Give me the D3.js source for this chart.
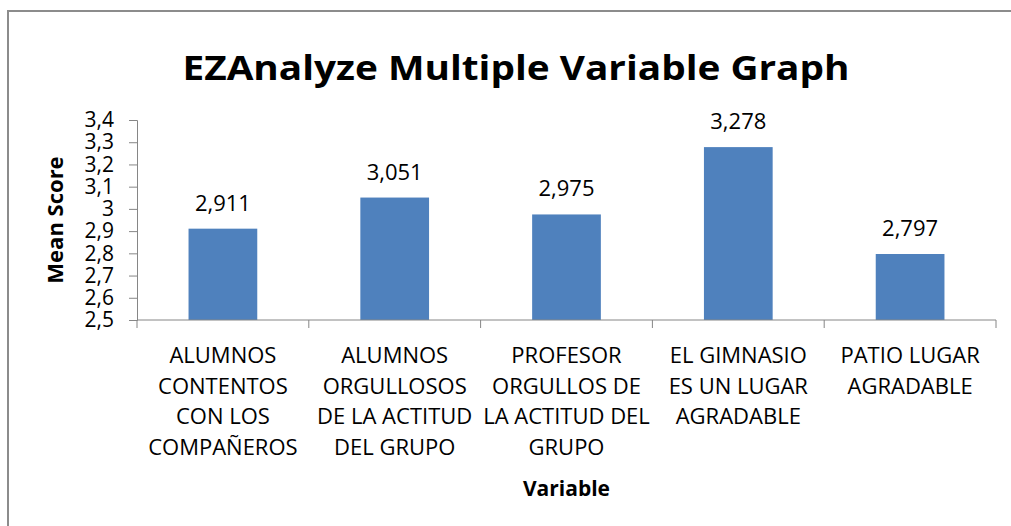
<!DOCTYPE html>
<html>
<head>
<meta charset="utf-8">
<script src="https://cdn.jsdelivr.net/npm/d3@7"></script>
<style>
  body { margin: 0; background: #fff; }
  text { font-family: "Open Sans", sans-serif; fill: #000; }
</style>
</head>
<body>
<svg id="chart"></svg>
<script>
const width = 1011, height = 526;

// data
const categories = [
  ["ALUMNOS", "CONTENTOS", "CON LOS", "COMPAÑEROS"],
  ["ALUMNOS", "ORGULLOSOS", "DE LA ACTITUD", "DEL GRUPO"],
  ["PROFESOR", "ORGULLOS DE", "LA ACTITUD DEL", "GRUPO"],
  ["EL GIMNASIO", "ES UN LUGAR", "AGRADABLE"],
  ["PATIO LUGAR", "AGRADABLE"]
];
const meanScores = [2.911, 3.051, 2.975, 3.278, 2.797];
const yTicks = [2.5, 2.6, 2.7, 2.8, 2.9, 3.0, 3.1, 3.2, 3.3, 3.4];

const fmt = v => d3.format(".1f")(v).replace(/\.0$/, "").replace(".", ",");
const fmtVal = v => d3.format(".3f")(v).replace(".", ",");

const svg = d3.select("#chart")
    .attr("width", width)
    .attr("height", height);

// chart border (only top and left show)
svg.append("path")
    .attr("d", "M8,526V11H1011")
    .attr("fill", "none")
    .attr("stroke", "#8c8c8c")
    .attr("stroke-width", 2);

const left = 137, right = 996;

const x = d3.scaleBand()
    .domain(d3.range(categories.length))
    .range([left, right])
    .paddingInner(0.6)
    .paddingOuter(0.3);

const y = d3.scaleLinear()
    .domain([2.5, 3.4])
    .range([320, 120]);

svg.append("text")
    .attr("x", 516)
    .attr("y", 80)
    .attr("text-anchor", "middle")
    .style("font-weight", "bold")
    .style("font-size", "34px")
    .attr("textLength", 667)
    .attr("lengthAdjust", "spacingAndGlyphs")
    .text("EZAnalyze Multiple Variable Graph");

// bars
svg.selectAll("rect.bar")
    .data(meanScores)
    .enter().append("rect")
    .attr("class", "bar")
    .attr("x", (d, i) => x(i))
    .attr("width", x.bandwidth())
    .attr("y", d => y(d))
    .attr("height", d => y(2.5) - y(d))
    .attr("fill", "#4f81bd");

svg.selectAll("text.val")
    .data(meanScores)
    .enter().append("text")
    .attr("class", "val")
    .attr("x", (d, i) => x(i) + x.bandwidth() / 2)
    .attr("y", d => y(d) - 18)
    .attr("text-anchor", "middle")
    .style("font-size", "22px")
    .text(fmtVal);

// y axis
const yAxis = d3.axisLeft(y)
    .tickValues(yTicks)
    .tickFormat(fmt)
    .tickSize(8)
    .tickPadding(15);

const gy = svg.append("g")
    .attr("transform", `translate(${left},0)`)
    .call(yAxis);
gy.select(".domain").attr("stroke", "#868686");
gy.selectAll(".tick line").attr("stroke", "#868686");
gy.selectAll(".tick text")
    .style("font-size", "21px")
    .style("font-family", "'Open Sans', sans-serif")
    .attr("fill", "#000");

// x axis with band boundary ticks
const bounds = d3.range(categories.length + 1).map(i =>
    i < categories.length ? x(i) - x.step() * x.paddingInner() / 2 : right);
const gx = svg.append("g");
gx.append("line")
    .attr("x1", left).attr("x2", right)
    .attr("y1", y(2.5)).attr("y2", y(2.5))
    .attr("stroke", "#868686");
gx.selectAll("line.tk")
    .data(bounds)
    .enter().append("line")
    .attr("class", "tk")
    .attr("x1", d => d).attr("x2", d => d)
    .attr("y1", y(2.5)).attr("y2", y(2.5) + 8)
    .attr("stroke", "#868686");

const labels = svg.selectAll("text.cat")
    .data(categories)
    .enter().append("text")
    .attr("class", "cat")
    .attr("text-anchor", "middle")
    .style("font-size", "22px")
    .attr("x", (d, i) => x(i) + x.bandwidth() / 2)
    .attr("y", 363);
labels.selectAll("tspan")
    .data(d => d)
    .enter().append("tspan")
    .attr("x", function() { return this.parentNode.getAttribute("x"); })
    .attr("dy", (d, i) => i === 0 ? 0 : 30.7)
    .text(d => d);

svg.append("text")
    .attr("x", (left + right) / 2)
    .attr("y", 496)
    .attr("text-anchor", "middle")
    .style("font-weight", "bold")
    .style("font-size", "21px")
    .text("Variable");

svg.append("text")
    .attr("transform", "translate(63,220) rotate(-90)")
    .attr("text-anchor", "middle")
    .style("font-weight", "bold")
    .style("font-size", "22px")
    .text("Mean Score");
</script>
</body>
</html>
